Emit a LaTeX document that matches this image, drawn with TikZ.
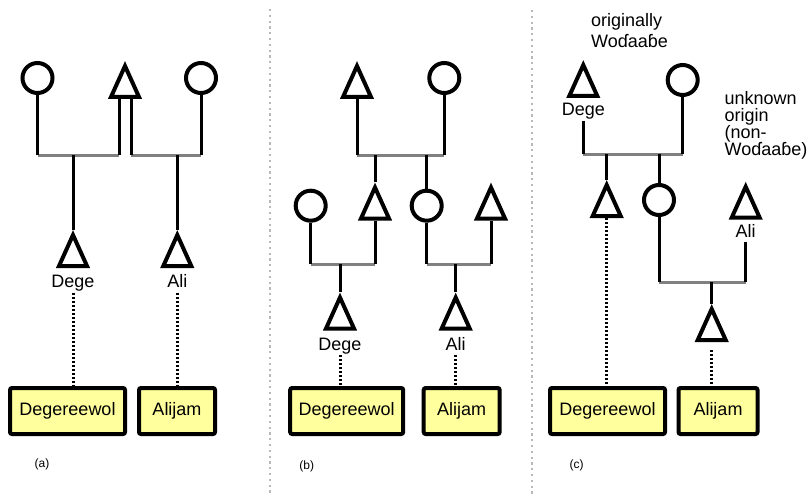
\documentclass[tikz,border=0pt]{standalone}
\usepackage{fontspec}
\setmainfont{Liberation Sans}
\usetikzlibrary{calc}
\usetikzlibrary{shapes.geometric,positioning}
\definecolor{boxyellow}{rgb}{1.0,1.0,0.62}
\definecolor{sepgray}{rgb}{0.72,0.72,0.72}
\definecolor{uniongray}{rgb}{0.5,0.5,0.5}

\begin{document}
\begin{tikzpicture}[x=1pt,y=-1pt,
    female/.style={draw,circle,line width=4pt,inner sep=0pt,minimum size=30pt},
    male/.style={draw,isosceles triangle,shape border rotate=90,isosceles triangle stretches,
      line width=4pt,inner sep=0pt,minimum width=28pt,minimum height=31pt,anchor=lower side},
    stem/.style={line width=3pt},
    union/.style={line width=3pt,uniongray},
    desc/.style={line width=3pt,dash pattern=on 2pt off 2pt},
    lbl/.style={font=\fontsize{18}{20}\selectfont,inner sep=1pt,text height=12.6pt,text depth=3.7pt},
    clanbox/.style={draw,line width=4pt,rounded corners=2pt,fill=boxyellow,
      minimum height=46pt,font=\fontsize{18}{20}\selectfont},
    note/.style={font=\fontsize{18}{17}\selectfont,inner sep=0pt,align=left,anchor=north west},
    tagtext/.style={font=\fontsize{12}{14}\selectfont},
    sep/.style={sepgray,line width=2.2pt,dash pattern=on 2.2pt off 3.6pt}]
  \useasboundingbox (0,0) rectangle (812,495);
  \draw[sep] (270.3,9) -- (270.3,495);
  \draw[sep] (531.7,10) -- (531.7,495);

  % (a)
  \node[female] (fa1) at (37.5,78) {};
  \node[male] (ma1) at (125,99) {};
  \node[female] (fa2) at (201,78) {};
  \coordinate (ma1l) at ([xshift=-6pt]ma1.lower side);
  \coordinate (ma1r) at ([xshift=6pt]ma1.lower side);
  \coordinate (ua) at (0,155);
  \draw[union] (fa1.south |- ua) -- (ma1l |- ua);
  \draw[union] (ma1r |- ua) -- (fa2.south |- ua);
  \draw[stem] (fa1.south) -- (fa1.south |- ua);
  \draw[stem] (ma1l) -- (ma1l |- ua);
  \draw[stem] (ma1r) -- (ma1r |- ua);
  \draw[stem] (fa2.south) -- (fa2.south |- ua);
  \node[male] (ca1) at (73,268) {};
  \node[male] (ca2) at (177.3,268) {};
  \draw[stem] (ca1.apex |- ua) -- (ca1.apex);
  \draw[stem] (ca2.apex |- ua) -- (ca2.apex);
  \node[lbl,below=6pt of ca1] (da) {Dege};
  \node[lbl,below=6pt of ca2] (aa) {Ali};
  \node[clanbox,minimum width=115pt] (ga1) at (67.5,411) {Degereewol};
  \node[clanbox,minimum width=76pt] (ga2) at (177,411) {Alijam};
  \draw[desc] (da.south) -- (da.south |- ga1.north);
  \draw[desc] (aa.south) -- (aa.south |- ga2.north);
  \node[tagtext] (ta) at (42,464) {(a)};

  % (b)
  \node[male] (mb1) at (357,99) {};
  \node[female] (fb1) at (444.3,78) {};
  \coordinate (ub) at (0,155);
  \draw[union] (mb1.lower side |- ub) -- (fb1.south |- ub);
  \draw[stem] (mb1.lower side) -- (mb1.lower side |- ub);
  \draw[stem] (fb1.south) -- (fb1.south |- ub);
  \node[female] (fb3) at (310.7,205.7) {};
  \node[male] (mb2) at (375,220.5) {};
  \node[female] (fb2) at (426.7,205.7) {};
  \node[male] (mb3) at (491,220.5) {};
  \draw[stem] (mb2.apex |- ub) -- (mb2.apex);
  \draw[stem] (fb2.north |- ub) -- (fb2.north);
  \coordinate (ub2) at (0,264);
  \draw[union] (fb3.south |- ub2) -- (mb2.lower side |- ub2);
  \draw[union] (fb2.south |- ub2) -- (mb3.lower side |- ub2);
  \draw[stem] (fb3.south) -- (fb3.south |- ub2);
  \draw[stem] (mb2.lower side) -- (mb2.lower side |- ub2);
  \draw[stem] (fb2.south) -- (fb2.south |- ub2);
  \draw[stem] (mb3.lower side) -- (mb3.lower side |- ub2);
  \node[male] (cb1) at (340,330.5) {};
  \node[male] (cb2) at (455.7,330.5) {};
  \draw[stem] (cb1.apex |- ub2) -- (cb1.apex);
  \draw[stem] (cb2.apex |- ub2) -- (cb2.apex);
  \node[lbl,below=6pt of cb1] (db) {Dege};
  \node[lbl,below=6pt of cb2] (ab) {Ali};
  \node[clanbox,minimum width=113pt] (gb1) at (346.7,411) {Degereewol};
  \node[clanbox,minimum width=76pt] (gb2) at (461.7,411) {Alijam};
  \draw[desc] (db.south) -- (db.south |- gb1.north);
  \draw[desc] (ab.south) -- (ab.south |- gb2.north);
  \node[tagtext] (tb) at (306.7,466) {(b)};

  % (c)
  \node[note,font=\fontsize{18}{21.7}\selectfont] (orig) at (591,13) {originally\\Woɗaaɓe};
  \node[note] (unk) at (724.5,91) {unknown\\origin\\(non-\\Woɗaaɓe)};
  \node[male] (mc1) at (583.3,98) {};
  \node[lbl,below=4pt of mc1] (dc) {Dege};
  \node[female] (fc1) at (682.7,80) {};
  \coordinate (uc) at (0,154);
  \draw[union] (dc.south |- uc) -- (fc1.south |- uc);
  \draw[stem] (dc.south) -- (dc.south |- uc);
  \draw[stem] (fc1.south) -- (fc1.south |- uc);
  \node[male] (cc1) at (606.7,218) {};
  \node[female] (fc2) at (659,200) {};
  \draw[stem] (cc1.apex |- uc) -- (cc1.apex);
  \draw[stem] (fc2.north |- uc) -- (fc2.north);
  \node[male] (mc2) at (745.7,219.7) {};
  \node[lbl,below=4pt of mc2] (ac) {Ali};
  \coordinate (uc2) at (0,282);
  \draw[union] (fc2.south |- uc2) -- (ac.south |- uc2);
  \draw[stem] (fc2.south) -- (fc2.south |- uc2);
  \draw[stem] (ac.south) -- (ac.south |- uc2);
  \node[male] (cc2) at (711.7,342) {};
  \draw[stem] (cc2.apex |- uc2) -- (cc2.apex);
  \node[clanbox,minimum width=115pt] (gc1) at (607.5,411) {Degereewol};
  \node[clanbox,minimum width=79pt] (gc2) at (718,411) {Alijam};
  \draw[desc] (cc1.lower side) -- (cc1.lower side |- gc1.north);
  \draw[desc] ([yshift=-8pt]cc2.lower side) -- (cc2.lower side |- gc2.north);
  \node[tagtext] (tc) at (576.7,465) {(c)};
\end{tikzpicture}
\end{document}
